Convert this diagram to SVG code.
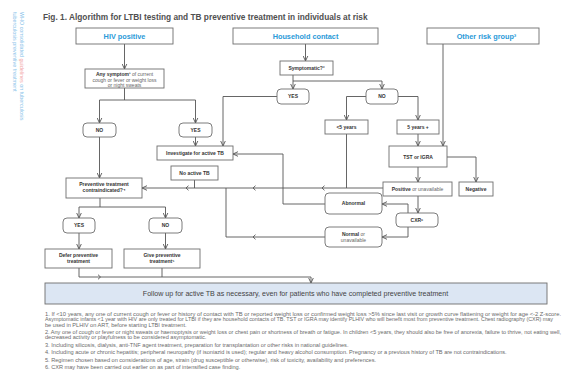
<svg xmlns="http://www.w3.org/2000/svg" width="567" height="386" viewBox="0 0 567 386">
<style>
.bx{fill:#fff;stroke:#6e6e6e;stroke-width:0.9}
.hd{font-family:"Liberation Sans",Arial,sans-serif;font-weight:bold;font-size:7.3px;fill:#2a9ad8;text-anchor:middle}
.t{font-family:"Liberation Sans",Arial,sans-serif;font-weight:bold;font-size:5px;fill:#333;text-anchor:middle}
.n{font-weight:normal;fill:#666}
.ln{fill:none;stroke:#555;stroke-width:0.9}
.ch{fill:none;stroke:#555;stroke-width:0.9}
.fn{font-family:"Liberation Sans",Arial,sans-serif;font-size:5.6px;fill:#6a6a6a}
.side{font-family:"Liberation Sans",Arial,sans-serif;font-size:5.4px;fill:#8cc4ea}
</style>
<defs>
<marker id="ah" viewBox="0 0 6 6" refX="5.5" refY="3" markerWidth="6" markerHeight="6" markerUnits="userSpaceOnUse" orient="auto"><path d="M0.5,0.7 L5.5,3 L0.5,5.3" fill="none" stroke="#555" stroke-width="0.9"/></marker>
</defs>
<rect width="567" height="386" fill="#fff"/>
<text class="side" transform="translate(19.5,12) rotate(90)">WHO consolidated <tspan fill="#f2a8a8">guidelines</tspan> on tuberculosis</text>
<text class="side" transform="translate(12.5,12) rotate(90)">tuberculosis preventive treatment</text>
<text x="43" y="19.5" font-family="'Liberation Sans',Arial,sans-serif" font-weight="bold" font-size="8.3" fill="#505050">Fig. 1. Algorithm for LTBI testing and TB preventive treatment in individuals at risk</text>

<g id="connectors">
<path class="ln" d="M124.5,44 V69" marker-end="url(#ah)"/>
<path class="ln" d="M124.5,88 V100 M99.5,100 H195.5"/>
<path class="ln" d="M99.5,100 V123" marker-end="url(#ah)"/>
<path class="ln" d="M195.5,100 V123" marker-end="url(#ah)"/>
<path class="ln" d="M99.5,137 V178" marker-end="url(#ah)"/>
<path class="ln" d="M195.5,137 V146" marker-end="url(#ah)"/>
<path class="ln" d="M305.5,44 V61" marker-end="url(#ah)"/>
<path class="ln" d="M293,75 V89" marker-end="url(#ah)"/>
<path class="ln" d="M293,81 H382 V89" marker-end="url(#ah)"/>
<path class="ln" d="M277,96.5 H223 V146" marker-end="url(#ah)"/>
<path class="ln" d="M366,96.5 H346.5 V120" marker-end="url(#ah)"/>
<path class="ln" d="M398,96.5 H418 V120" marker-end="url(#ah)"/>
<path class="ln" d="M443,44 V146" marker-end="url(#ah)"/>
<path class="ln" d="M418,134 V146" marker-end="url(#ah)"/>
<path class="ln" d="M447,157 H476 V182" marker-end="url(#ah)"/>
<path class="ln" d="M418,167 V182" marker-end="url(#ah)"/>
<path class="ln" d="M383,188 H142" marker-end="url(#ah)"/>
<path class="ln" d="M346.5,134 V188"/>
<path class="ln" d="M194.5,180 V188"/>
<path class="ln" d="M418,196 V213" marker-end="url(#ah)"/>
<path class="ln" d="M408,213 V204 H382" marker-end="url(#ah)"/>
<path class="ln" d="M408,227 V237 H382" marker-end="url(#ah)"/>
<path class="ln" d="M325,204 H283 V154 H233" marker-end="url(#ah)"/>
<path class="ln" d="M325,237 H226 V188"/>
<path class="ln" d="M100,198 V207 M79,207 H165.5"/>
<path class="ln" d="M79,207 V218" marker-end="url(#ah)"/>
<path class="ln" d="M165.5,207 V218" marker-end="url(#ah)"/>
<path class="ln" d="M79,233 V249" marker-end="url(#ah)"/>
<path class="ln" d="M165.5,233 V249" marker-end="url(#ah)"/>
<path class="ln" d="M79,268 V277 H311 V283" marker-end="url(#ah)"/>
<path class="ln" d="M162,268 V277"/>
<path class="ch" d="M324.5,185.7 L322,188 L324.5,190.3 M255.5,185.7 L253,188 L255.5,190.3 M188.5,185.7 L186,188 L188.5,190.3 M255.5,234.7 L253,237 L255.5,239.3 M98,274.7 L100.5,277 L98,279.3"/>
</g>

<g id="hiv"><rect class="bx" x="76" y="28" width="97" height="16"/><text class="hd" x="124.5" y="38.6">HIV positive</text></g>
<g id="household"><rect class="bx" x="233" y="28" width="145" height="16"/><text class="hd" x="305.5" y="38.6">Household contact</text></g>
<g id="other"><rect class="bx" x="427" y="28" width="112" height="16"/><text class="hd" x="486.5" y="38.6">Other risk group³</text></g>
<g id="anysymptom"><rect class="bx" x="85" y="69" width="79" height="19"/>
<text class="t" x="124.5" y="76.3">Any symptom¹<tspan class="n"> of current</tspan></text>
<text class="t n" x="124.5" y="81.6">cough or fever or weight loss</text>
<text class="t n" x="124.5" y="86.6">or night sweats</text></g>
<g id="symptomatic"><rect class="bx" x="280" y="61" width="53" height="14"/><text class="t" x="306.5" y="69.8">Symptomatic?²</text></g>
<g id="yes-hh"><rect class="bx" x="277" y="89" width="32" height="15" rx="4"/><text class="t" x="293" y="98.3">YES</text></g>
<g id="no-hh"><rect class="bx" x="366" y="89" width="32" height="15" rx="4"/><text class="t" x="382" y="98.3">NO</text></g>
<g id="lt5"><rect class="bx" x="325" y="120" width="43" height="14"/><text class="t" x="346.5" y="128.8">&lt;5 years</text></g>
<g id="gte5"><rect class="bx" x="397" y="120" width="42" height="14"/><text class="t" x="418" y="128.8">5 years +</text></g>
<g id="tst"><rect class="bx" x="389" y="146" width="58" height="21"/><text class="t" x="418" y="158.5" font-size="5.6">TST or IGRA</text></g>
<g id="positive"><rect class="bx" x="383" y="182" width="69" height="14"/><text class="t" x="417.5" y="190.8">Positive<tspan class="n"> or unavailable</tspan></text></g>
<g id="negative"><rect class="bx" x="459" y="182" width="34" height="14"/><text class="t" x="476" y="190.8">Negative</text></g>
<g id="cxr"><rect class="bx" x="396" y="213" width="42" height="14" rx="4"/><text class="t" x="417" y="221.8">CXR⁶</text></g>
<g id="abnormal"><rect class="bx" x="325" y="193" width="57" height="21" rx="4"/><text class="t" x="353.5" y="205.3">Abnormal</text></g>
<g id="normal"><rect class="bx" x="325" y="227" width="57" height="20" rx="4"/><text class="t" x="353.5" y="235.8">Normal<tspan class="n"> or</tspan></text><text class="t n" x="353.5" y="241.6">unavailable</text></g>
<g id="no-hiv"><rect class="bx" x="83" y="123" width="33" height="14" rx="4"/><text class="t" x="99.5" y="131.8">NO</text></g>
<g id="yes-hiv"><rect class="bx" x="179" y="123" width="33" height="14" rx="4"/><text class="t" x="195.5" y="131.8">YES</text></g>
<g id="investigate"><rect class="bx" x="157" y="146" width="76" height="14"/><text class="t" x="195" y="154.8">Investigate for active TB</text></g>
<g id="noactive"><rect class="bx" x="171" y="166" width="47" height="14"/><text class="t" x="194.5" y="174.8">No active TB</text></g>
<g id="contra"><rect class="bx" x="66" y="178" width="76" height="20"/><text class="t" x="104" y="186.3">Preventive treatment</text><text class="t" x="104" y="192.3">contraindicated?⁴</text></g>
<g id="yes-c"><rect class="bx" x="63" y="218" width="32" height="15" rx="4"/><text class="t" x="79" y="227.3">YES</text></g>
<g id="no-c"><rect class="bx" x="149" y="218" width="33" height="15" rx="4"/><text class="t" x="165.5" y="227.3">NO</text></g>
<g id="defer"><rect class="bx" x="45" y="249" width="67" height="19"/><text class="t" x="78.5" y="256.8">Defer preventive</text><text class="t" x="78.5" y="262.8">treatment</text></g>
<g id="give"><rect class="bx" x="124" y="249" width="76" height="19"/><text class="t" x="162" y="256.8">Give preventive</text><text class="t" x="162" y="262.8">treatment⁵</text></g>
<g id="followup"><rect x="45" y="283" width="502" height="21" fill="#dce6f3" stroke="#6e6e6e" stroke-width="0.9"/><text x="295.5" y="296.2" font-family="'Liberation Sans',Arial,sans-serif" font-size="7.1" fill="#444" text-anchor="middle">Follow up for active TB as necessary, even for patients who have completed preventive treatment</text></g>

<g id="footnotes">
<text class="fn" x="45" y="315.5" textLength="516" lengthAdjust="spacingAndGlyphs">1. If &lt;10 years, any one of current cough or fever or history of contact with TB or reported weight loss or confirmed weight loss &gt;5% since last visit or growth curve flattening or weight for age &lt;-2 Z-score.</text>
<text class="fn" x="45" y="321" font-size="4.8" textLength="508" lengthAdjust="spacingAndGlyphs">Asymptomatic infants &lt;1 year with HIV are only treated for LTBI if they are household contacts of TB. TST or IGRA may identify PLHIV who will benefit most from preventive treatment. Chest radiography (CXR) may</text>
<text class="fn" x="45" y="326.5">be used in PLHIV on ART, before starting LTBI treatment.</text>
<text class="fn" x="45" y="333.5" textLength="516" lengthAdjust="spacingAndGlyphs">2. Any one of cough or fever or night sweats or haemoptysis or weight loss or chest pain or shortness of breath or fatigue. In children &lt;5 years, they should also be free of anorexia, failure to thrive, not eating well,</text>
<text class="fn" x="45" y="339">decreased activity or playfulness to be considered asymptomatic.</text>
<text class="fn" x="45" y="346.5">3. Including silicosis, dialysis, anti-TNF agent treatment, preparation for transplantation or other risks in national guidelines.</text>
<text class="fn" x="45" y="354">4. Including acute or chronic hepatitis; peripheral neuropathy (if isoniazid is used); regular and heavy alcohol consumption. Pregnancy or a previous history of TB are not contraindications.</text>
<text class="fn" x="45" y="361.5">5. Regimen chosen based on considerations of age, strain (drug susceptible or otherwise), risk of toxicity, availability and preferences.</text>
<text class="fn" x="45" y="369">6. CXR may have been carried out earlier on as part of intensified case finding.</text>
</g>
</svg>
